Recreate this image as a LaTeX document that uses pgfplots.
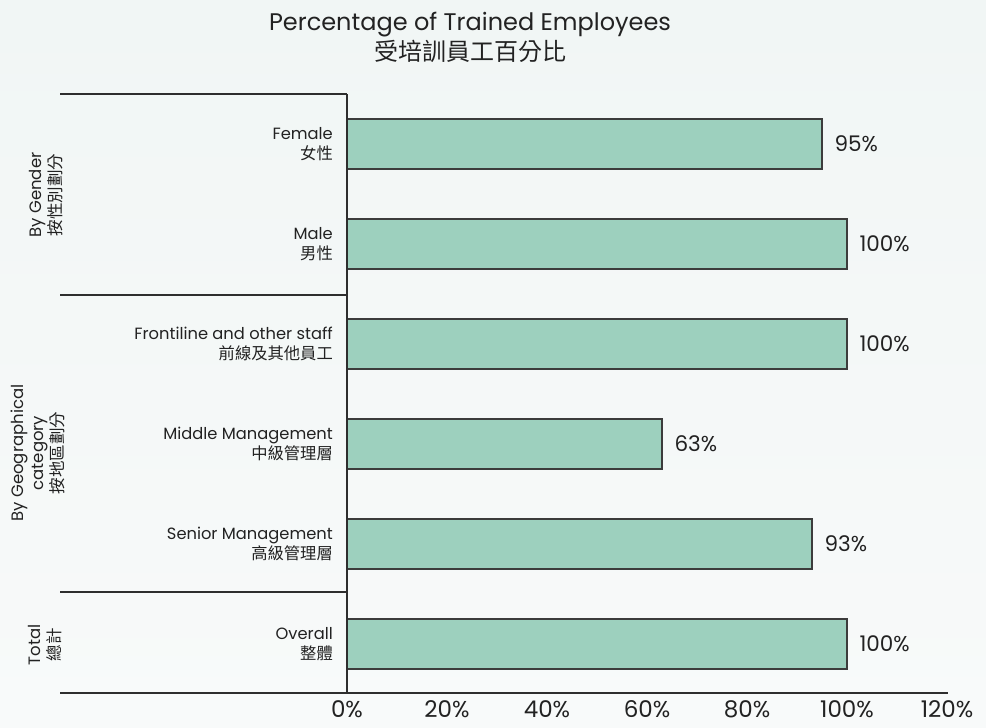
\documentclass[border=0pt]{standalone}
\usepackage{fontspec}
\setmainfont{Poppins}
\newfontfamily\cjk{Noto Sans CJK TC}
\usepackage{pgfplots}
\pgfplotsset{compat=1.18}
\definecolor{barfill}{HTML}{9DD0BE}
\definecolor{baredge}{HTML}{3C3C3C}
\definecolor{linec}{HTML}{2E2E2E}
\definecolor{txt}{HTML}{222222}
\definecolor{bgtop}{HTML}{F1F6F5}
\definecolor{bgbot}{HTML}{F8FAFA}
\newcommand{\fs}[1]{\fontsize{#1bp}{1.2\dimexpr#1bp\relax}\selectfont}
\begin{document}
\begin{tikzpicture}[x=1bp,y=1bp]
\shade[top color=bgtop,bottom color=bgbot] (0,0) rectangle (986,728);
\useasboundingbox (0,0) rectangle (986,728);
\begin{axis}[
  at={(347bp,34bp)}, anchor=south west,
  scale only axis, width=600bp, height=600bp,
  xmin=0, xmax=120, ymin=-0.5, ymax=5.5,
  xbar, bar width=50bp,
  axis line style={draw=none},
  major tick length=0pt,
  /pgf/number format/assume math mode=true,
  xtick={0,20,40,60,80,100,120},
  xticklabels={0\%,20\%,40\%,60\%,80\%,100\%,120\%},
  xticklabel style={font=\fs{23}, text=txt, anchor=north, inner sep=0pt, yshift=-6bp},
  ytick={0,1,2,3,4,5},
  yticklabels={{Overall\\{\cjk 整體}},{Senior Management\\{\cjk 高級管理層}},{Middle Management\\{\cjk 中級管理層}},{Frontiline and other staff\\{\cjk 前線及其他員工}},{Male\\{\cjk 男性}},{Female\\{\cjk 女性}}},
  yticklabel style={font=\fs{16.3}, text=txt, align=right, anchor=east, inner sep=0pt, xshift=-14bp},
  nodes near coords={\pgfmathprintnumber{\pgfplotspointmeta}\%},
  every node near coord/.append style={font=\fs{21.5}, text=txt, anchor=west, inner sep=0pt, xshift=12bp},
  clip=false,
]
\addplot[fill=barfill, draw=baredge, line width=1.1bp] coordinates {
  (100,0) (93,1) (63,2) (100,3) (100,4) (95,5)
};
\end{axis}
% frame lines
\draw[linec, line width=2bp] (347,34.5) -- (347,633.7);
\draw[linec, line width=2bp] (60,34.5) -- (947.7,34.5);
\draw[linec, line width=2bp] (60,633.7) -- (347,633.7);
\draw[linec, line width=2bp] (60,432.5) -- (347,432.5);
\draw[linec, line width=2bp] (60,135.7) -- (347,135.7);
% group labels
\node[rotate=90, anchor=south, align=center, font=\fs{16.5}, text=txt, inner sep=0pt] at (63,533) {By Gender\\{\cjk 按性別劃分}};
\node[rotate=90, anchor=south, align=center, font=\fs{16.5}, text=txt, inner sep=0pt] at (65,275) {By Geographical\\category\\{\cjk 按地區劃分}};
\node[rotate=90, anchor=south, align=center, font=\fs{16.5}, text=txt, inner sep=0pt] at (62,83) {Total\\{\cjk 總計}};
% title
\node[anchor=base, font=\fs{24}, text=txt] at (470,697) {Percentage of Trained Employees};
\node[anchor=base, font=\fs{24}, text=txt] at (470,667) {\cjk 受培訓員工百分比};
\end{tikzpicture}
\end{document}
